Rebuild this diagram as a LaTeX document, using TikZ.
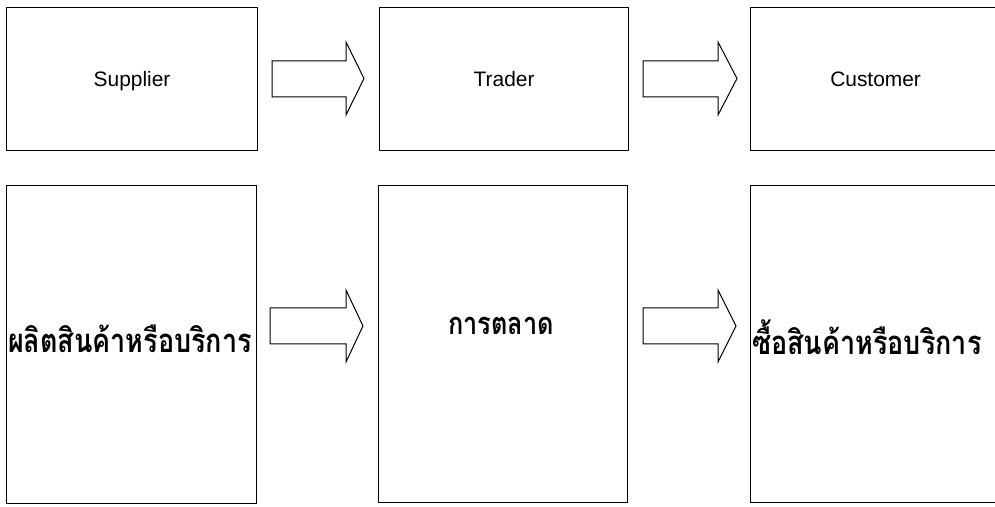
\documentclass[tikz,border=0pt]{standalone}
\usepackage{fontspec}
\setmainfont{Liberation Sans}
\newfontfamily\thaifont[Script=Thai,FakeStretch=0.82]{Loma}
\begin{document}
\begin{tikzpicture}[x=1bp,y=-1bp,
  box/.style={draw, line width=1.2bp, inner sep=0pt, anchor=north west},
  lat/.style={font=\fontsize{21}{24}\selectfont, text height=15bp, text depth=0pt},
  thai/.style={font=\fontsize{33}{36}\selectfont\thaifont\bfseries, inner sep=0pt, anchor=base},
  blockarr/.style={draw, line width=1bp, line join=miter, fill=white}]
\useasboundingbox (0,0) rectangle (995,507);
\clip (0,0) rectangle (995,507);
% top row
\node[box, minimum width=251bp, minimum height=143bp, lat] (sup) at (6,7) {Supplier};
\node[box, minimum width=249bp, minimum height=143bp, lat] (tra) at (379,7) {Trader};
\node[box, minimum width=250bp, minimum height=143bp, lat] (cus) at (750,7) {Customer};
% bottom row
\node[box, minimum width=250bp, minimum height=318bp] (prod) at (6,185) {};
\node[box, minimum width=249bp, minimum height=317bp] (mkt) at (378,185) {};
\node[box, minimum width=250bp, minimum height=317bp] (buy) at (750,185) {};
\node[thai] (tprod) at (130,353) {ผลิตสินค้าหรือบริการ};
\node[thai, font=\fontsize{31}{34}\selectfont\thaifont\bfseries] (tmkt) at (501,335) {การตลาด};
\node[thai, anchor=base west] (tbuy) at (752,355) {ซื้อสินค้าหรือบริการ};
% block arrows, top
\draw[blockarr] (272,61) -- (346,61) -- (346,42) -- (364,78.5) -- (346,115) -- (346,97) -- (272,97) -- cycle;
\draw[blockarr] (643,61) -- (718,61) -- (718,42) -- (737,78.5) -- (718,115) -- (718,97) -- (643,97) -- cycle;
% block arrows, bottom
\draw[blockarr] (270,308) -- (346,308) -- (346,290) -- (363,326) -- (346,362) -- (346,344) -- (270,344) -- cycle;
\draw[blockarr] (643,308) -- (718,308) -- (718,290) -- (736,326) -- (718,362) -- (718,344) -- (643,344) -- cycle;
\end{tikzpicture}
\end{document}
